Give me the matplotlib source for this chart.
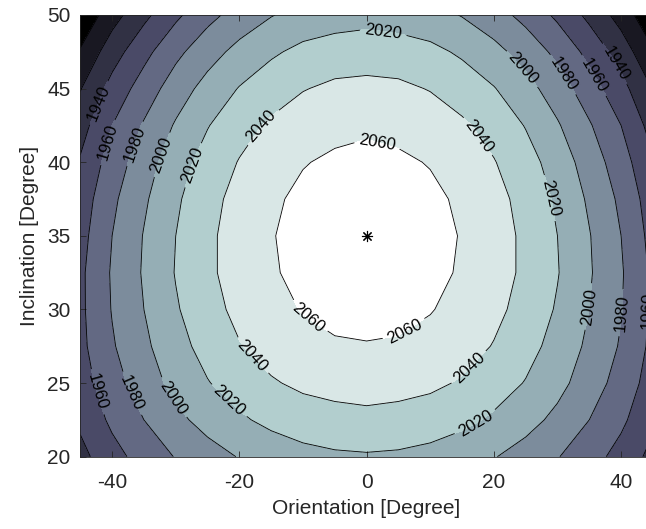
import numpy as np
import matplotlib.pyplot as plt

# Grid of the surface
orientation = [-45, -40, -35, -30, -25, -20, -15, -10, -5, 0,
               5, 10, 15, 20, 25, 30, 35, 40, 45]
inclination = [20, 22.5, 25, 27.5, 30, 32.5, 35, 37.5, 40, 42.5, 45, 47.5, 50]

yield_rows = [
    [1934, 1953, 1968, 1981, 1992, 2001, 2008, 2014, 2017, 2018, 2017, 2014, 2008, 2001, 1992, 1981, 1968, 1953, 1934],
    [1944, 1964, 1980, 1995, 2007, 2017, 2025, 2030, 2033, 2035, 2033, 2030, 2025, 2017, 2007, 1995, 1980, 1964, 1944],
    [1951, 1972, 1990, 2006, 2019, 2029, 2038, 2044, 2047, 2048, 2047, 2044, 2038, 2029, 2019, 2006, 1990, 1972, 1951],
    [1955, 1978, 1996, 2013, 2027, 2039, 2048, 2054, 2058, 2059, 2058, 2054, 2048, 2039, 2027, 2013, 1996, 1978, 1955],
    [1956, 1981, 2000, 2018, 2033, 2045, 2054, 2061, 2065, 2066, 2065, 2061, 2054, 2045, 2033, 2018, 2000, 1981, 1956],
    [1956, 1982, 2002, 2021, 2036, 2049, 2058, 2065, 2069, 2071, 2069, 2065, 2058, 2049, 2036, 2021, 2002, 1982, 1956],
    [1953, 1980, 2001, 2020, 2036, 2049, 2059, 2066, 2071, 2072, 2071, 2066, 2059, 2049, 2036, 2020, 2001, 1980, 1953],
    [1949, 1976, 1997, 2017, 2033, 2047, 2057, 2064, 2069, 2070, 2069, 2064, 2057, 2047, 2033, 2017, 1997, 1976, 1949],
    [1942, 1969, 1991, 2011, 2028, 2041, 2051, 2059, 2063, 2065, 2063, 2059, 2051, 2041, 2028, 2011, 1991, 1969, 1942],
    [1932, 1960, 1982, 2002, 2019, 2033, 2043, 2051, 2055, 2057, 2055, 2051, 2043, 2033, 2019, 2002, 1982, 1960, 1932],
    [1919, 1947, 1969, 1990, 2007, 2021, 2031, 2039, 2044, 2045, 2044, 2039, 2031, 2021, 2007, 1990, 1969, 1947, 1919],
    [1902, 1931, 1954, 1975, 1992, 2006, 2017, 2025, 2029, 2031, 2029, 2025, 2017, 2006, 1992, 1975, 1954, 1931, 1902],
    [1883, 1912, 1935, 1956, 1974, 1988, 1999, 2007, 2011, 2013, 2011, 2007, 1999, 1988, 1974, 1956, 1935, 1912, 1883],
]

levels = [1860, 1900, 1920, 1940, 1960, 1980, 2000, 2020, 2040, 2060, 2100]
line_levels = [1900, 1920, 1940, 1960, 1980, 2000, 2020, 2040, 2060]

# best point marked with a star
best_orientation = 0
best_inclination = 35

# where the contour labels sit (x, y)
label_spots = [
    (2.6, 48.8), (24.4, 46.3), (30.7, 45.9), (35.4, 45.8), (38.7, 46.6),
    (1.6, 41.3), (17.3, 41.7), (28.3, 37.5),
    (-41.9, 44.0), (-40.3, 41.3), (-36.1, 41.2), (-32.2, 40.5), (-27.3, 39.8), (-16.3, 42.4),
    (-9.4, 29.3), (-18.1, 26.8), (-21.5, 23.85), (-30.4, 24.0), (-36.9, 24.3), (-42.4, 24.4),
    (6.0, 28.5), (16.0, 26.1), (17.0, 22.4), (34.8, 30.2), (39.6, 29.8), (43.0, 30.0),
]


def main():
    plt.rcParams['font.family'] = ['Liberation Sans', 'DejaVu Sans']
    plt.rcParams['axes.unicode_minus'] = False

    X, Y = np.meshgrid(orientation, inclination)
    Z = np.array(yield_rows, dtype=float)

    fig = plt.figure(figsize=(6.46, 5.29), dpi=100)
    ax = fig.add_axes([0.1243, 0.1367, 0.8864, 0.835])

    band_colors = plt.get_cmap('bone')(np.linspace(0, 1, len(levels) - 1))
    ax.contourf(X, Y, Z, levels=levels, colors=band_colors)
    cs = ax.contour(X, Y, Z, levels=line_levels, colors='black', linewidths=0.6)
    ax.clabel(cs, manual=label_spots, fmt='%d', fontsize=12, inline=True, inline_spacing=5)

    ax.plot(best_orientation, best_inclination, marker=(8, 2, 0), color='black',
            markersize=8, markeredgewidth=0.8)

    ax.set_xlim(-45, 45)
    ax.set_ylim(20, 50)
    ax.set_xticks([-40, -20, 0, 20, 40])
    ax.set_yticks([20, 25, 30, 35, 40, 45, 50])
    ax.tick_params(direction='in', top=True, right=True, length=4, width=0.6,
                   labelsize=15, colors='#262626')
    ax.tick_params(axis='x', pad=12)
    ax.tick_params(axis='y', pad=7)
    for s in ax.spines.values():
        s.set_linewidth(0.6)
        s.set_color('#262626')

    ax.set_xlabel('Orientation [Degree]', fontsize=15, color='#262626', labelpad=5)
    ax.set_ylabel('Inclination [Degree]', fontsize=15, color='#262626', labelpad=6)

    fig.savefig('out.png', dpi=100)


if __name__ == '__main__':
    main()
